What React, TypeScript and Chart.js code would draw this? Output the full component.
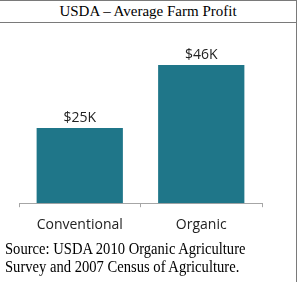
import React, { useEffect, useRef } from "react";
import { Chart, registerables } from "chart.js";

Chart.register(...registerables);

const categories = ["Conventional", "Organic"];
const profitValues = [25, 46];
const valueLabels = ["$25K", "$46K"];
const chartTitle = "USDA \u2013 Average Farm Profit";
const sourceLines = [
  "Source: USDA 2010 Organic Agriculture",
  "Survey and 2007 Census of Agriculture.",
];

const BAR_COLOR = "#1f7689";
const BORDER_GRAY = "#7a7a7a";

const valueLabelPlugin = {
  id: "valueLabels",
  afterDatasetsDraw(chart: any) {
    const ctx = chart.ctx;
    const meta = chart.getDatasetMeta(0);
    ctx.save();
    ctx.font = "14px 'Open Sans', sans-serif";
    ctx.fillStyle = "#222";
    ctx.textAlign = "center";
    ctx.textBaseline = "alphabetic";
    meta.data.forEach((el: any, i: number) => {
      ctx.fillText(valueLabels[i], el.x, el.y - 6);
    });
    ctx.restore();
  },
};

export default function App() {
  const canvasRef = useRef<HTMLCanvasElement | null>(null);

  useEffect(() => {
    if (!canvasRef.current) return;
    const chart = new Chart(canvasRef.current, {
      type: "bar",
      data: {
        labels: categories,
        datasets: [
          {
            data: profitValues,
            backgroundColor: BAR_COLOR,
            borderWidth: 0,
            categoryPercentage: 1,
            barPercentage: 0.71,
          },
        ],
      },
      options: {
        animation: false,
        responsive: false,
        maintainAspectRatio: false,
        layout: { padding: { left: 19, right: 34, top: 1, bottom: 0 } },
        plugins: {
          legend: { display: false },
          tooltip: { enabled: false },
          title: { display: false },
        },
        scales: {
          x: {
            grid: {
              display: true,
              drawOnChartArea: false,
              drawTicks: true,
              tickLength: 4,
              color: "#a6a6a6",
              offset: true,
            },
            border: { display: true, color: "#a6a6a6", width: 1 },
            ticks: {
              color: "#222",
              padding: 9,
              font: { family: "'Open Sans', sans-serif", size: 14 },
            },
          },
          y: {
            display: false,
            min: 0,
            max: 60,
          },
        },
      },
      plugins: [valueLabelPlugin],
    });
    return () => chart.destroy();
  }, []);

  return (
    <div
      style={{
        position: "absolute",
        left: 0,
        top: 0,
        width: 300,
        height: 282,
        background: "#fff",
        overflow: "hidden",
      }}
    >
      <div
        style={{
          position: "absolute",
          left: 0,
          top: 0,
          width: 296,
          height: 21,
          borderTop: `1px solid ${BORDER_GRAY}`,
          borderBottom: `1px solid ${BORDER_GRAY}`,
          fontFamily: "'Liberation Serif', serif",
          fontSize: 15,
          lineHeight: "20px",
          textAlign: "center",
          color: "#000",
        }}
      >
        {chartTitle}
      </div>
      <div
        style={{
          position: "absolute",
          left: 296,
          top: 0,
          width: 1,
          height: 282,
          background: BORDER_GRAY,
        }}
      />
      <canvas
        ref={canvasRef}
        width={296}
        height={220}
        style={{ position: "absolute", left: 0, top: 22, width: 296, height: 220 }}
      />
      <div
        style={{
          position: "absolute",
          left: 5,
          top: 239.6,
          fontFamily: "'Liberation Serif', serif",
          fontSize: 14.6,
          lineHeight: "15.7px",
          color: "#000",
          whiteSpace: "nowrap",
          transform: "scaleY(1.13)",
          transformOrigin: "0 0",
        }}
      >
        {sourceLines.map((l, i) => (
          <div key={i}>{l}</div>
        ))}
      </div>
    </div>
  );
}
